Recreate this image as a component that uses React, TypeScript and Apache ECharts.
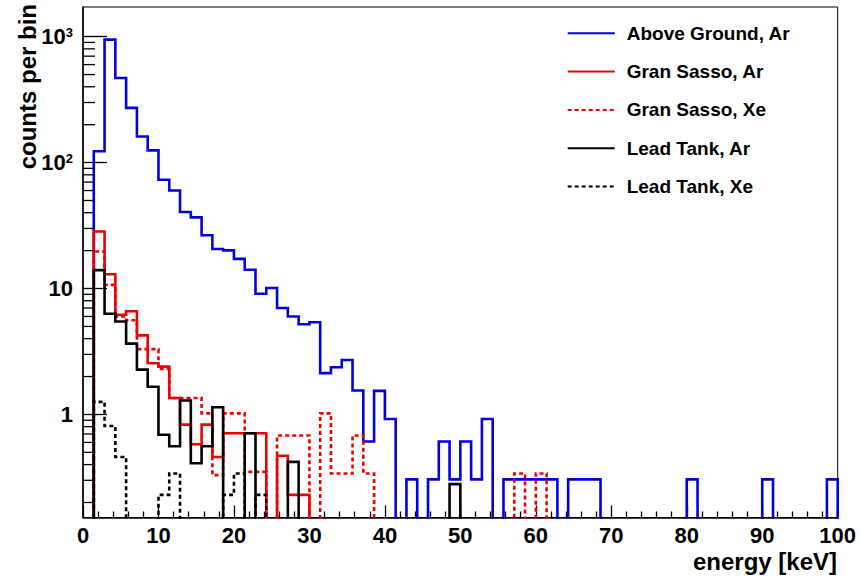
import React, { useEffect, useRef } from 'react';
import * as echarts from 'echarts';

// ---- histogram definition ----
const X_MIN = 0;
const X_MAX = 100;
const N_BINS = 70;
const Y_MIN = 0.152;
const Y_MAX = 1720;

const xTickLabels = [0, 10, 20, 30, 40, 50, 60, 70, 80, 90, 100];
const yDecades = [0.1, 1, 10, 100, 1000];

const seriesNames = ['Above Ground, Ar', 'Gran Sasso, Ar', 'Gran Sasso, Xe', 'Lead Tank, Ar', 'Lead Tank, Xe'];

// counts per bin, bins 0..69 (0 = empty bin)
const aboveGroundAr = [
  0, 123, 948, 470, 272, 161, 125, 73, 60, 40.5,
  36.7, 26.5, 20.6, 20.1, 17.2, 14.1, 9.1, 10.1, 7.0, 6.0,
  5.2, 5.4, 2.13, 2.37, 2.71, 1.55, 0.61, 1.54, 0.92, 0,
  0.305, 0, 0.305, 0.61, 0.305, 0.61, 0.305, 0.92, 0, 0.305,
  0.305, 0.305, 0.305, 0.305, 0, 0.305, 0.305, 0.305, 0, 0,
  0, 0, 0, 0, 0, 0, 0.305, 0, 0, 0,
  0, 0, 0, 0.305, 0, 0, 0, 0, 0, 0.305,
];
const granSassoAr = [
  0, 28.4, 13.0, 6.2, 6.6, 4.25, 2.55, 2.4, 1.35, 0.83,
  0.58, 0.83, 0.46, 0.71, 0.71, 0.71, 0.71, 0, 0.47, 0.23,
  0.23, 0, 0, 0, 0, 0, 0, 0, 0, 0,
  0, 0, 0, 0, 0, 0, 0, 0, 0, 0,
  0, 0, 0, 0, 0, 0, 0, 0, 0, 0,
  0, 0, 0, 0, 0, 0, 0, 0, 0, 0,
  0, 0, 0, 0, 0, 0, 0, 0, 0, 0,
];
const granSassoXe = [
  0, 19.7, 10.7, 6.0, 5.6, 3.3, 3.3, 2.3, 1.35, 1.35,
  1.35, 1.02, 0.33, 1.02, 1.02, 0.35, 0.35, 0, 0.68, 0.68,
  0.68, 0, 1.02, 0.34, 0.34, 0.68, 0.34, 0, 0, 0,
  0, 0, 0, 0, 0, 0, 0, 0, 0, 0,
  0.34, 0, 0.34, 0, 0, 0, 0, 0, 0, 0,
  0, 0, 0, 0, 0, 0, 0, 0, 0, 0,
  0, 0, 0, 0, 0, 0, 0, 0, 0, 0,
];
const leadTankAr = [
  0, 14.0, 6.3, 5.47, 3.65, 2.27, 1.66, 0.69, 0.56, 1.29,
  0.41, 0.56, 1.14, 0, 0, 0.71, 0, 0, 0, 0.42,
  0, 0, 0, 0, 0, 0, 0, 0, 0, 0,
  0, 0, 0, 0, 0.28, 0, 0, 0, 0, 0,
  0, 0, 0, 0, 0, 0, 0, 0, 0, 0,
  0, 0, 0, 0, 0, 0, 0, 0, 0, 0,
  0, 0, 0, 0, 0, 0, 0, 0, 0, 0,
];
const leadTankXe = [
  0, 1.26, 0.81, 0.46, 0, 0, 0, 0.23, 0.34, 0,
  0, 0, 0, 0.23, 0.34, 0, 0.23, 0, 0, 0,
  0, 0, 0, 0, 0, 0, 0, 0, 0, 0,
  0, 0, 0, 0, 0, 0, 0, 0, 0, 0,
  0, 0, 0, 0, 0, 0, 0, 0, 0, 0,
  0, 0, 0, 0, 0, 0, 0, 0, 0, 0,
  0, 0, 0, 0, 0, 0, 0, 0, 0, 0,
];

const FONT = '"Liberation Sans", Arial, Helvetica, sans-serif';
const FLOOR = 1e-3; // empty bins drawn below the axis minimum (clipped)

function binEdge(k: number) {
  return X_MIN + ((X_MAX - X_MIN) * k) / N_BINS;
}
function toSteps(values: number[]) {
  const pts: number[][] = values.map((v, k) => [binEdge(k), v > 0 ? v : FLOOR]);
  pts.push([X_MAX, FLOOR]);
  return pts;
}

const yMinorTicks: number[][] = [];
yDecades.forEach((d) => {
  for (let m = 2; m <= 9; m++) {
    const v = d * m;
    if (v > Y_MIN && v < Y_MAX) yMinorTicks.push([X_MIN, v]);
  }
});

function histSeries(name: string, values: number[], color: string, dashed: boolean) {
  return {
    name,
    type: 'line',
    step: 'end',
    data: toSteps(values),
    symbol: 'none',
    showSymbol: false,
    clip: true,
    lineStyle: { color, width: 2.6, type: dashed ? [4, 3] : 'solid', join: 'miter', cap: 'butt' },
    itemStyle: { color },
    emphasis: { disabled: true },
    silent: true,
  };
}

export default function App() {
  const ref = useRef<HTMLDivElement>(null);
  useEffect(() => {
    const chart = echarts.init(ref.current!, null, { renderer: 'svg' });
    const option: any = {
      animation: false,
      backgroundColor: '#ffffff',
      grid: {
        left: 83,
        top: 7,
        width: 754.7,
        height: 510.5,
        show: true,
        borderColor: '#000',
        borderWidth: 1,
        backgroundColor: 'transparent',
        containLabel: false,
        outerBoundsMode: 'none',
      },
      legend: {
        orient: 'vertical',
        left: 566.7,
        top: 23.3,
        padding: 0,
        itemWidth: 47,
        itemHeight: 20,
        itemGap: 18.3,
        selectedMode: false,
        data: seriesNames,
        itemStyle: { opacity: 0, borderWidth: 0 },
        textStyle: {
          fontSize: 19,
          fontWeight: 'bold',
          fontFamily: FONT,
          color: '#000',
          lineHeight: 20,
          padding: [0, 0, 0, 7],
        },
      },
      xAxis: {
        type: 'value',
        min: X_MIN,
        max: X_MAX,
        interval: 10,
        axisLine: { show: true, onZero: false, lineStyle: { color: '#000', width: 1.5 } },
        axisTick: { show: true, inside: true, length: 12, lineStyle: { color: '#000', width: 1.3 } },
        minorTick: { show: true, splitNumber: 5, length: 6, lineStyle: { color: '#000', width: 1.3 } },
        splitLine: { show: false },
        minorSplitLine: { show: false },
        axisLabel: {
          show: true,
          margin: 7,
          fontSize: 22,
          fontWeight: 'bold',
          fontFamily: FONT,
          color: '#000',
          showMinLabel: true,
          showMaxLabel: true,
          formatter: (v: number) => (xTickLabels.indexOf(Math.round(v)) >= 0 ? String(Math.round(v)) : ''),
        },
      },
      yAxis: {
        type: 'log',
        logBase: 10,
        min: Y_MIN,
        max: Y_MAX,
        axisLine: { show: true, onZero: false, lineStyle: { color: '#000', width: 1.5 } },
        axisTick: { show: true, inside: true, length: 24, lineStyle: { color: '#000', width: 1.3 } },
        splitLine: { show: false },
        axisLabel: {
          show: true,
          margin: 10,
          fontSize: 22,
          fontWeight: 'bold',
          fontFamily: FONT,
          color: '#000',
          showMinLabel: false,
          showMaxLabel: false,
          formatter: (v: number) => {
            const l = Math.log10(v);
            const e = Math.round(l);
            if (Math.abs(l - e) > 1e-6 || e < 0) return '';
            if (e === 0) return '1';
            if (e === 1) return '10';
            return '{b|10}{s|' + e + '}';
          },
          rich: {
            b: { fontSize: 22, fontWeight: 'bold', fontFamily: FONT, color: '#000' },
            s: { fontSize: 13, fontWeight: 'bold', fontFamily: FONT, color: '#000', padding: [0, 0, 8, 0] },
          },
        },
      },
      graphic: [
        {
          type: 'text',
          x: 27,
          y: 4,
          rotation: Math.PI / 2,
          style: {
            text: 'counts per bin',
            fill: '#000',
            font: 'bold 24px ' + FONT,
            align: 'right',
            verticalAlign: 'middle',
            textAlign: 'right',
            textVerticalAlign: 'middle',
          },
        },
        {
          type: 'text',
          x: 837,
          y: 561,
          style: {
            text: 'energy [keV]',
            fill: '#000',
            font: 'bold 24px ' + FONT,
            align: 'right',
            verticalAlign: 'middle',
            textAlign: 'right',
            textVerticalAlign: 'middle',
          },
        },
      ],
      series: [
        histSeries(seriesNames[0], aboveGroundAr, '#0000e6', false),
        histSeries(seriesNames[1], granSassoAr, '#ee0000', false),
        histSeries(seriesNames[2], granSassoXe, '#ee0000', true),
        histSeries(seriesNames[3], leadTankAr, '#000000', false),
        histSeries(seriesNames[4], leadTankXe, '#000000', true),
        {
          name: 'yMinorTicks',
          type: 'custom',
          silent: true,
          data: yMinorTicks,
          encode: { x: 0, y: 1 },
          renderItem: (params: any, api: any) => {
            const p = api.coord([api.value(0), api.value(1)]);
            return {
              type: 'line',
              shape: { x1: p[0], y1: p[1], x2: p[0] + 12, y2: p[1] },
              style: { stroke: '#000', lineWidth: 1.3 },
            };
          },
          z: 5,
        },
      ],
    };
    chart.setOption(option);
    return () => chart.dispose();
  }, []);
  return (
    <div
      ref={ref}
      style={{ position: 'fixed', left: 0, top: 0, width: 861, height: 579, background: '#fff' }}
    />
  );
}
